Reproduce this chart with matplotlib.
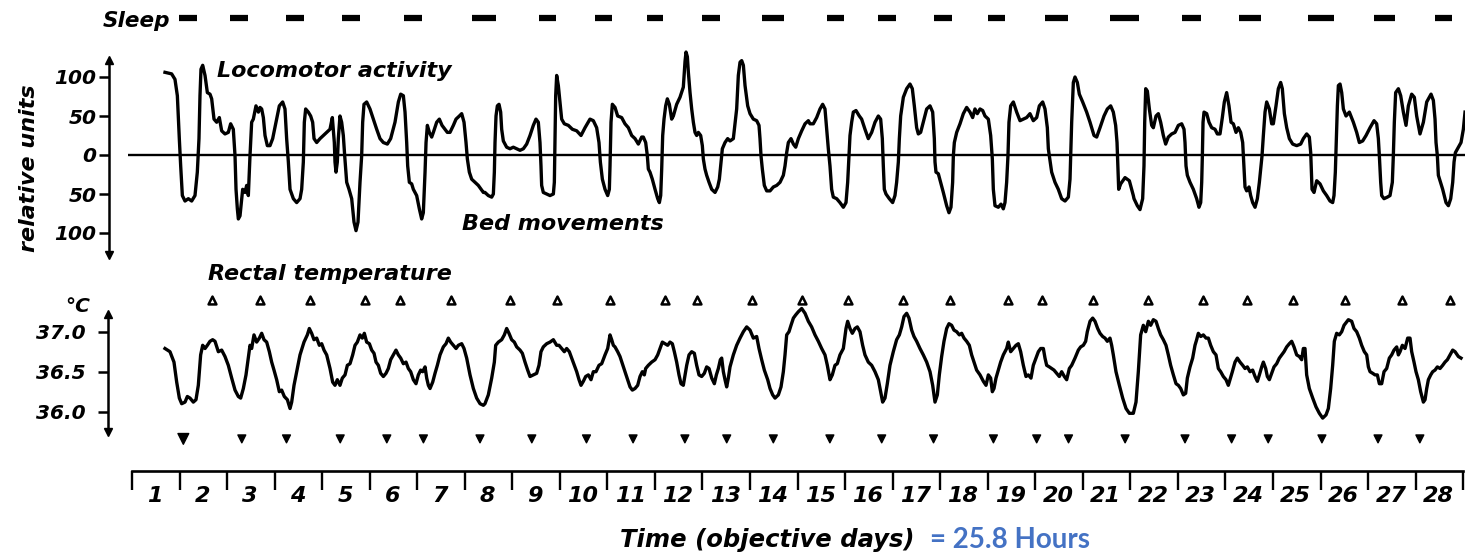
import matplotlib
matplotlib.use('Agg')
import matplotlib.pyplot as plt

W, H = 1465, 558
X0_PX = 132          # pixel where day 1 starts on the time axis
PX_PER_DAY = 47.54

# sleep episodes (start, end) in objective days from the start of day 1
SLEEP_START = [0.99, 2.06, 3.24, 4.42, 5.72, 7.15, 8.56, 9.74, 10.83, 12.00, 13.25,
               14.62, 15.69, 16.87, 18.00, 19.20, 20.57, 22.09, 23.29, 24.74, 26.13, 27.41]
SLEEP_END = [1.37, 2.44, 3.62, 4.80, 6.10, 7.66, 8.92, 10.10, 11.17, 12.37, 13.72,
             14.98, 16.07, 17.25, 18.36, 19.69, 21.18, 22.49, 23.75, 25.28, 26.57, 27.77]

# locomotor activity (positive) and bed movements (negative), relative units
ACTIVITY = [
    (0.694, 106), (0.834, 104), (0.904, 97), (0.954, 76), (0.996, 20), (1.024, -14),
    (1.059, -52), (1.115, -59), (1.185, -56), (1.255, -59), (1.325, -52), (1.374, -22),
    (1.409, 21), (1.430, 76), (1.451, 110), (1.487, 115), (1.536, 102), (1.585, 80),
    (1.641, 78), (1.676, 72), (1.725, 46), (1.781, 42), (1.837, 48), (1.886, 31),
    (1.956, 27), (2.026, 29), (2.075, 40), (2.131, 33), (2.167, -1), (2.188, -44),
    (2.216, -69), (2.237, -82), (2.272, -78), (2.307, -56), (2.328, -44), (2.377, -48),
    (2.412, -39), (2.447, -52), (2.482, -1), (2.517, 42), (2.552, 46), (2.608, 63),
    (2.658, 55), (2.693, 61), (2.728, 59), (2.763, 48), (2.798, 25), (2.847, 12),
    (2.903, 12), (2.959, 21), (3.029, 42), (3.099, 63), (3.169, 68), (3.218, 59),
    (3.253, 21), (3.289, -9), (3.324, -44), (3.394, -56), (3.464, -61), (3.534, -56),
    (3.569, -44), (3.604, -9), (3.625, 42), (3.653, 59), (3.709, 55), (3.758, 50),
    (3.800, 42), (3.829, 21), (3.885, 16), (3.955, 21), (4.025, 25), (4.095, 29),
    (4.165, 33), (4.214, 48), (4.256, 16), (4.270, -9), (4.291, -22), (4.319, -9),
    (4.340, 21), (4.375, 50), (4.410, 42), (4.445, 25), (4.474, -1), (4.516, -35),
    (4.565, -44), (4.621, -56), (4.670, -86), (4.712, -97), (4.754, -86), (4.796, -35),
    (4.831, -1), (4.852, 42), (4.880, 65), (4.936, 68), (5.006, 59), (5.077, 46),
    (5.147, 33), (5.217, 21), (5.287, 16), (5.371, 14), (5.441, 21), (5.532, 42),
    (5.603, 68), (5.652, 78), (5.708, 76), (5.743, 55), (5.778, 16), (5.799, -14),
    (5.834, -35), (5.883, -37), (5.918, -44), (5.988, -52), (6.044, -69), (6.093, -82),
    (6.128, -74), (6.164, -22), (6.185, 16), (6.213, 38), (6.255, 29), (6.304, 23),
    (6.339, 29), (6.409, 42), (6.465, 46), (6.521, 38), (6.584, 33), (6.633, 29),
    (6.689, 29), (6.760, 38), (6.816, 46), (6.886, 50), (6.935, 53), (6.984, 42),
    (7.026, 16), (7.054, -5), (7.096, -22), (7.145, -31), (7.215, -35), (7.285, -39),
    (7.391, -48), (7.425, -48), (7.495, -52), (7.566, -54), (7.601, -50), (7.622, -22),
    (7.636, 16), (7.657, 50), (7.685, 63), (7.720, 65), (7.755, 55), (7.776, 33),
    (7.811, 18), (7.881, 10), (7.951, 8), (8.021, 10), (8.092, 8), (8.162, 6),
    (8.232, 8), (8.302, 14), (8.372, 25), (8.442, 38), (8.498, 46), (8.547, 42),
    (8.582, 16), (8.603, -14), (8.617, -39), (8.652, -48), (8.723, -50), (8.793, -52),
    (8.863, -50), (8.884, -35), (8.898, 21), (8.912, 76), (8.933, 102), (8.968, 89),
    (9.003, 68), (9.038, 46), (9.094, 40), (9.178, 38), (9.263, 33), (9.354, 31),
    (9.445, 25), (9.529, 35), (9.634, 46), (9.704, 44), (9.774, 35), (9.823, 16),
    (9.852, -9), (9.894, -31), (9.950, -44), (10.006, -52), (10.041, -44), (10.055, -14),
    (10.076, 42), (10.104, 65), (10.160, 61), (10.216, 50), (10.300, 48), (10.370, 40),
    (10.441, 35), (10.511, 25), (10.581, 21), (10.651, 14), (10.721, 23), (10.756, 23),
    (10.805, 16), (10.840, -1), (10.861, -18), (10.896, -22), (10.945, -31), (11.002, -44),
    (11.058, -56), (11.093, -61), (11.121, -52), (11.142, -18), (11.163, 25), (11.191, 46),
    (11.226, 63), (11.261, 72), (11.303, 65), (11.352, 46), (11.387, 50), (11.457, 65),
    (11.527, 74), (11.597, 87), (11.633, 120), (11.654, 132), (11.682, 126), (11.703, 106),
    (11.738, 80), (11.773, 59), (11.808, 42), (11.843, 29), (11.878, 25), (11.913, 29),
    (11.962, 25), (11.997, 12), (12.018, -5), (12.053, -18), (12.088, -26), (12.138, -35),
    (12.194, -44), (12.264, -48), (12.320, -41), (12.355, -31), (12.390, -9), (12.418, 8),
    (12.474, 16), (12.530, 21), (12.579, 18), (12.649, 21), (12.719, 59), (12.754, 102),
    (12.790, 119), (12.825, 121), (12.860, 115), (12.895, 89), (12.951, 63), (13.000, 53),
    (13.070, 46), (13.140, 44), (13.189, 38), (13.210, 21), (13.231, -1), (13.259, -18),
    (13.301, -39), (13.351, -46), (13.421, -46), (13.491, -41), (13.561, -39), (13.631, -35),
    (13.701, -26), (13.736, -14), (13.771, 3), (13.806, 16), (13.862, 21), (13.912, 14),
    (13.961, 10), (14.017, 21), (14.087, 31), (14.157, 40), (14.227, 44), (14.261, 40),
    (14.331, 40), (14.402, 48), (14.472, 59), (14.528, 65), (14.577, 59), (14.612, 33),
    (14.647, 8), (14.682, -14), (14.717, -44), (14.752, -54), (14.822, -56), (14.892, -61),
    (14.963, -67), (15.019, -61), (15.054, -35), (15.082, -1), (15.103, 25), (15.138, 42),
    (15.173, 55), (15.229, 57), (15.299, 50), (15.348, 46), (15.418, 33), (15.488, 21),
    (15.559, 29), (15.629, 42), (15.699, 50), (15.748, 46), (15.783, 21), (15.804, -14),
    (15.825, -44), (15.860, -50), (15.930, -56), (16.000, -61), (16.049, -52), (16.084, -35),
    (16.120, -9), (16.141, 21), (16.169, 50), (16.225, 74), (16.295, 85), (16.365, 91),
    (16.414, 85), (16.456, 63), (16.505, 35), (16.540, 27), (16.589, 29), (16.645, 42),
    (16.716, 59), (16.786, 63), (16.842, 55), (16.877, 21), (16.891, -9), (16.912, -22),
    (16.961, -24), (17.010, -35), (17.066, -48), (17.136, -65), (17.185, -74), (17.227, -67),
    (17.262, -35), (17.277, -1), (17.298, 16), (17.347, 29), (17.417, 40), (17.487, 53),
    (17.557, 61), (17.627, 55), (17.683, 48), (17.732, 59), (17.781, 53), (17.838, 59),
    (17.894, 57), (17.943, 50), (18.013, 46), (18.062, 25), (18.097, -5), (18.118, -44),
    (18.153, -65), (18.223, -67), (18.279, -63), (18.328, -69), (18.363, -61), (18.398, -35),
    (18.426, -1), (18.447, 42), (18.483, 63), (18.539, 68), (18.609, 55), (18.679, 44),
    (18.749, 46), (18.819, 48), (18.889, 53), (18.959, 44), (19.030, 48), (19.086, 63),
    (19.156, 68), (19.205, 59), (19.254, 35), (19.275, 8), (19.296, -1), (19.345, -22),
    (19.415, -35), (19.485, -44), (19.555, -56), (19.626, -59), (19.696, -54), (19.731, -31),
    (19.745, -1), (19.766, 42), (19.801, 93), (19.836, 100), (19.885, 93), (19.927, 78),
    (19.997, 68), (20.081, 55), (20.152, 42), (20.236, 25), (20.292, 23), (20.362, 35),
    (20.446, 50), (20.516, 59), (20.586, 63), (20.642, 55), (20.691, 38), (20.720, 16),
    (20.734, -9), (20.755, -44), (20.797, -37), (20.888, -29), (20.979, -33), (21.063, -52),
    (21.077, -56), (21.147, -65), (21.203, -70), (21.259, -56), (21.287, -14), (21.302, 42),
    (21.323, 85), (21.358, 82), (21.400, 59), (21.449, 38), (21.484, 35), (21.540, 50),
    (21.589, 53), (21.638, 42), (21.694, 25), (21.743, 14), (21.799, 23), (21.870, 27),
    (21.940, 29), (22.010, 38), (22.080, 40), (22.129, 33), (22.150, 16), (22.171, -14),
    (22.199, -26), (22.255, -35), (22.325, -44), (22.395, -56), (22.444, -67), (22.480, -61),
    (22.501, -35), (22.515, -1), (22.529, 42), (22.550, 55), (22.606, 53), (22.655, 42),
    (22.711, 35), (22.781, 33), (22.830, 27), (22.886, 27), (22.935, 48), (22.977, 68),
    (23.026, 80), (23.075, 63), (23.118, 42), (23.167, 40), (23.223, 29), (23.272, 35),
    (23.321, 29), (23.363, 16), (23.391, -18), (23.412, -41), (23.447, -46), (23.496, -41),
    (23.531, -52), (23.573, -61), (23.623, -67), (23.672, -56), (23.714, -35), (23.749, -14),
    (23.770, -1), (23.798, 25), (23.833, 55), (23.868, 68), (23.924, 59), (23.973, 40),
    (24.008, 40), (24.064, 63), (24.113, 85), (24.162, 93), (24.197, 85), (24.240, 53),
    (24.289, 35), (24.345, 21), (24.415, 14), (24.499, 12), (24.583, 14), (24.639, 21),
    (24.709, 27), (24.765, 23), (24.794, 3), (24.808, -22), (24.822, -44), (24.864, -48),
    (24.920, -33), (24.990, -37), (25.060, -46), (25.130, -52), (25.200, -59), (25.256, -61),
    (25.284, -52), (25.312, -22), (25.333, 21), (25.355, 63), (25.376, 89), (25.411, 91),
    (25.446, 80), (25.481, 59), (25.537, 50), (25.607, 55), (25.691, 42), (25.761, 29),
    (25.817, 16), (25.887, 18), (25.958, 25), (26.042, 35), (26.126, 44), (26.182, 40),
    (26.217, 21), (26.238, -1), (26.266, -35), (26.287, -52), (26.336, -56), (26.406, -54),
    (26.462, -52), (26.511, -35), (26.532, -1), (26.553, 42), (26.581, 80), (26.638, 85),
    (26.687, 76), (26.743, 55), (26.799, 38), (26.848, 63), (26.918, 78), (26.974, 74),
    (27.023, 50), (27.093, 27), (27.164, 42), (27.234, 68), (27.325, 78), (27.374, 70),
    (27.409, 46), (27.430, 16), (27.458, -1), (27.479, -26), (27.514, -33), (27.570, -44),
    (27.640, -61), (27.690, -65), (27.739, -56), (27.781, -35), (27.809, -9), (27.837, 3),
    (27.900, 10), (27.956, 16), (28.005, 33), (28.040, 55),
]

# rectal temperature, degrees C
TEMPERATURE = [
    (0.694, 36.79), (0.799, 36.75), (0.883, 36.62), (0.940, 36.37), (0.996, 36.17),
    (1.045, 36.10), (1.115, 36.12), (1.164, 36.19), (1.220, 36.17), (1.290, 36.12),
    (1.346, 36.15), (1.395, 36.33), (1.444, 36.71), (1.487, 36.83), (1.536, 36.79),
    (1.585, 36.83), (1.641, 36.88), (1.697, 36.90), (1.746, 36.88), (1.816, 36.75),
    (1.886, 36.77), (1.956, 36.69), (2.026, 36.58), (2.097, 36.42), (2.167, 36.27),
    (2.237, 36.19), (2.286, 36.17), (2.342, 36.29), (2.398, 36.46), (2.447, 36.67),
    (2.482, 36.83), (2.517, 36.79), (2.566, 36.96), (2.622, 36.87), (2.679, 36.92),
    (2.728, 36.98), (2.777, 36.90), (2.833, 36.87), (2.889, 36.75), (2.938, 36.62),
    (2.987, 36.52), (3.043, 36.40), (3.099, 36.25), (3.148, 36.27), (3.204, 36.19),
    (3.268, 36.15), (3.324, 36.04), (3.359, 36.12), (3.408, 36.33), (3.464, 36.50),
    (3.534, 36.71), (3.618, 36.87), (3.688, 36.96), (3.730, 37.04), (3.779, 36.98),
    (3.828, 36.90), (3.885, 36.92), (3.941, 36.83), (3.990, 36.85), (4.039, 36.77),
    (4.095, 36.71), (4.165, 36.54), (4.221, 36.37), (4.270, 36.33), (4.319, 36.40),
    (4.375, 36.33), (4.424, 36.42), (4.481, 36.46), (4.530, 36.58), (4.586, 36.60),
    (4.642, 36.71), (4.691, 36.83), (4.740, 36.87), (4.796, 36.96), (4.845, 36.92),
    (4.887, 36.98), (4.936, 36.87), (4.993, 36.85), (5.042, 36.77), (5.091, 36.73),
    (5.133, 36.62), (5.182, 36.58), (5.231, 36.48), (5.287, 36.44), (5.343, 36.48),
    (5.392, 36.54), (5.441, 36.65), (5.497, 36.71), (5.553, 36.77), (5.603, 36.71),
    (5.652, 36.67), (5.708, 36.60), (5.764, 36.62), (5.813, 36.54), (5.862, 36.50),
    (5.918, 36.40), (5.974, 36.35), (6.023, 36.46), (6.072, 36.52), (6.114, 36.50),
    (6.164, 36.56), (6.199, 36.42), (6.234, 36.33), (6.269, 36.29), (6.325, 36.37),
    (6.374, 36.48), (6.423, 36.58), (6.479, 36.71), (6.549, 36.81), (6.605, 36.85),
    (6.654, 36.92), (6.703, 36.87), (6.760, 36.83), (6.816, 36.79), (6.865, 36.83),
    (6.935, 36.85), (6.984, 36.79), (7.040, 36.67), (7.110, 36.46), (7.180, 36.29),
    (7.250, 36.17), (7.321, 36.10), (7.391, 36.08), (7.425, 36.10), (7.495, 36.21),
    (7.566, 36.42), (7.622, 36.62), (7.650, 36.83), (7.706, 36.87), (7.776, 36.90),
    (7.832, 36.96), (7.881, 37.04), (7.930, 36.98), (7.986, 36.90), (8.042, 36.87),
    (8.092, 36.81), (8.162, 36.77), (8.211, 36.73), (8.267, 36.62), (8.323, 36.52),
    (8.372, 36.44), (8.442, 36.46), (8.512, 36.48), (8.561, 36.58), (8.603, 36.75),
    (8.652, 36.81), (8.723, 36.85), (8.793, 36.87), (8.863, 36.90), (8.933, 36.83),
    (8.982, 36.83), (9.038, 36.79), (9.094, 36.75), (9.143, 36.79), (9.199, 36.75),
    (9.248, 36.67), (9.305, 36.58), (9.354, 36.50), (9.403, 36.40), (9.445, 36.33),
    (9.494, 36.38), (9.543, 36.44), (9.599, 36.46), (9.655, 36.40), (9.704, 36.50),
    (9.760, 36.50), (9.823, 36.58), (9.880, 36.60), (9.950, 36.71), (10.006, 36.79),
    (10.055, 36.96), (10.090, 36.90), (10.125, 36.83), (10.160, 36.81), (10.216, 36.75),
    (10.265, 36.69), (10.314, 36.60), (10.370, 36.50), (10.427, 36.40), (10.476, 36.31),
    (10.525, 36.27), (10.581, 36.29), (10.637, 36.33), (10.686, 36.44), (10.735, 36.50),
    (10.777, 36.46), (10.805, 36.54), (10.861, 36.58), (10.931, 36.62), (11.002, 36.65),
    (11.058, 36.71), (11.107, 36.79), (11.156, 36.87), (11.212, 36.85), (11.268, 36.83),
    (11.317, 36.87), (11.366, 36.85), (11.408, 36.75), (11.457, 36.62), (11.506, 36.46),
    (11.548, 36.35), (11.597, 36.33), (11.633, 36.46), (11.668, 36.58), (11.717, 36.71),
    (11.773, 36.75), (11.829, 36.73), (11.878, 36.58), (11.927, 36.46), (11.983, 36.44),
    (12.039, 36.48), (12.088, 36.56), (12.138, 36.54), (12.194, 36.42), (12.250, 36.35),
    (12.292, 36.46), (12.334, 36.54), (12.376, 36.65), (12.404, 36.67), (12.439, 36.50),
    (12.474, 36.40), (12.509, 36.31), (12.544, 36.42), (12.579, 36.56), (12.649, 36.71),
    (12.719, 36.83), (12.790, 36.92), (12.860, 37.00), (12.930, 37.06), (13.000, 37.02),
    (13.070, 36.92), (13.140, 36.94), (13.189, 36.79), (13.245, 36.65), (13.301, 36.52),
    (13.372, 36.40), (13.421, 36.29), (13.477, 36.21), (13.526, 36.17), (13.596, 36.21),
    (13.652, 36.31), (13.701, 36.50), (13.736, 36.71), (13.771, 36.96), (13.820, 37.00),
    (13.862, 37.08), (13.912, 37.17), (13.961, 37.21), (14.017, 37.25), (14.087, 37.29),
    (14.157, 37.23), (14.227, 37.13), (14.296, 37.06), (14.367, 36.96), (14.437, 36.88),
    (14.507, 36.79), (14.577, 36.71), (14.626, 36.58), (14.682, 36.40), (14.731, 36.46),
    (14.787, 36.58), (14.836, 36.60), (14.892, 36.71), (14.963, 36.79), (15.019, 37.04),
    (15.054, 37.13), (15.103, 37.04), (15.152, 36.98), (15.208, 37.04), (15.257, 37.06),
    (15.313, 37.00), (15.369, 36.83), (15.418, 36.71), (15.488, 36.62), (15.559, 36.58),
    (15.629, 36.50), (15.699, 36.40), (15.748, 36.25), (15.790, 36.12), (15.839, 36.17),
    (15.888, 36.35), (15.944, 36.58), (16.014, 36.75), (16.084, 36.90), (16.141, 36.96),
    (16.190, 37.06), (16.239, 37.19), (16.295, 37.23), (16.344, 37.17), (16.400, 37.02),
    (16.449, 36.94), (16.505, 36.88), (16.575, 36.79), (16.645, 36.71), (16.716, 36.62),
    (16.786, 36.50), (16.842, 36.33), (16.891, 36.12), (16.940, 36.21), (16.982, 36.46),
    (17.031, 36.69), (17.080, 36.88), (17.136, 37.04), (17.185, 37.10), (17.241, 37.08),
    (17.290, 37.02), (17.347, 37.00), (17.403, 36.96), (17.452, 36.98), (17.501, 36.92),
    (17.557, 36.88), (17.613, 36.83), (17.662, 36.71), (17.711, 36.62), (17.767, 36.52),
    (17.838, 36.46), (17.908, 36.38), (17.964, 36.33), (18.013, 36.46), (18.062, 36.42),
    (18.097, 36.25), (18.132, 36.29), (18.174, 36.42), (18.223, 36.52), (18.272, 36.62),
    (18.328, 36.71), (18.398, 36.79), (18.433, 36.87), (18.483, 36.75), (18.539, 36.79),
    (18.595, 36.83), (18.644, 36.85), (18.693, 36.75), (18.749, 36.58), (18.805, 36.44),
    (18.854, 36.46), (18.910, 36.42), (18.959, 36.58), (19.015, 36.67), (19.065, 36.75),
    (19.114, 36.79), (19.170, 36.79), (19.205, 36.67), (19.240, 36.58), (19.296, 36.56),
    (19.345, 36.54), (19.394, 36.52), (19.450, 36.48), (19.506, 36.44), (19.555, 36.50),
    (19.612, 36.44), (19.661, 36.40), (19.717, 36.54), (19.766, 36.58), (19.836, 36.67),
    (19.906, 36.77), (19.955, 36.81), (20.011, 36.83), (20.060, 36.88), (20.095, 37.00),
    (20.152, 37.13), (20.208, 37.17), (20.257, 37.13), (20.313, 37.04), (20.362, 36.98),
    (20.418, 36.94), (20.467, 36.92), (20.516, 36.88), (20.572, 36.92), (20.607, 36.83),
    (20.642, 36.71), (20.698, 36.50), (20.769, 36.33), (20.839, 36.17), (20.909, 36.04),
    (20.979, 35.98), (21.063, 35.98), (21.119, 36.12), (21.168, 36.50), (21.217, 36.96),
    (21.273, 37.08), (21.323, 37.00), (21.379, 37.13), (21.428, 37.08), (21.484, 37.15),
    (21.540, 37.13), (21.589, 37.04), (21.638, 36.96), (21.694, 36.90), (21.750, 36.83),
    (21.799, 36.71), (21.848, 36.58), (21.905, 36.46), (21.961, 36.35), (22.010, 36.33),
    (22.059, 36.29), (22.115, 36.21), (22.164, 36.23), (22.199, 36.42), (22.255, 36.56),
    (22.311, 36.67), (22.360, 36.83), (22.395, 36.90), (22.430, 36.98), (22.480, 36.94),
    (22.536, 36.96), (22.592, 36.92), (22.641, 36.92), (22.690, 36.83), (22.746, 36.75),
    (22.802, 36.71), (22.851, 36.54), (22.900, 36.50), (22.956, 36.44), (23.012, 36.40),
    (23.061, 36.33), (23.096, 36.40), (23.146, 36.50), (23.202, 36.62), (23.251, 36.67),
    (23.307, 36.62), (23.363, 36.58), (23.412, 36.54), (23.461, 36.56), (23.517, 36.50),
    (23.573, 36.52), (23.623, 36.44), (23.672, 36.38), (23.714, 36.46), (23.763, 36.56),
    (23.798, 36.62), (23.847, 36.54), (23.882, 36.44), (23.924, 36.40), (23.973, 36.48),
    (24.022, 36.56), (24.078, 36.60), (24.134, 36.67), (24.183, 36.71), (24.233, 36.75),
    (24.289, 36.81), (24.345, 36.85), (24.394, 36.88), (24.443, 36.81), (24.499, 36.71),
    (24.555, 36.69), (24.604, 36.65), (24.639, 36.79), (24.674, 36.79), (24.709, 36.46),
    (24.765, 36.29), (24.836, 36.17), (24.906, 36.06), (24.976, 35.98), (25.046, 35.92),
    (25.116, 35.96), (25.165, 36.04), (25.214, 36.29), (25.256, 36.58), (25.291, 36.88),
    (25.340, 36.98), (25.396, 36.96), (25.446, 37.00), (25.495, 37.08), (25.586, 37.15),
    (25.656, 37.13), (25.705, 37.04), (25.761, 37.00), (25.817, 36.92), (25.866, 36.83),
    (25.922, 36.75), (25.972, 36.71), (26.007, 36.56), (26.042, 36.50), (26.098, 36.48),
    (26.147, 36.46), (26.196, 36.46), (26.238, 36.35), (26.287, 36.35), (26.336, 36.50),
    (26.392, 36.54), (26.448, 36.67), (26.497, 36.71), (26.546, 36.77), (26.603, 36.81),
    (26.638, 36.71), (26.673, 36.75), (26.722, 36.83), (26.778, 36.79), (26.834, 36.92),
    (26.883, 36.92), (26.918, 36.75), (26.967, 36.62), (27.009, 36.50), (27.058, 36.40),
    (27.107, 36.25), (27.164, 36.12), (27.199, 36.15), (27.234, 36.29), (27.269, 36.40),
    (27.318, 36.46), (27.360, 36.50), (27.409, 36.52), (27.458, 36.56), (27.514, 36.54),
    (27.570, 36.58), (27.619, 36.62), (27.669, 36.65), (27.725, 36.71), (27.781, 36.77),
    (27.830, 36.75), (27.900, 36.69), (27.956, 36.67),
]

# times of temperature maxima (open triangles) and minima (filled triangles)
TEMP_MAX_DAY = [1.68, 2.69, 3.74, 4.90, 5.64, 6.72, 7.95, 8.93, 10.05, 11.21, 11.88, 13.04,
                14.09, 15.07, 16.22, 17.21, 18.43, 19.14, 20.21, 21.37, 22.53, 23.46, 24.42,
                25.51, 26.71, 27.72]
TEMP_MIN_DAY = [1.08, 2.31, 3.25, 4.38, 5.36, 6.13, 7.32, 8.41, 9.56, 10.54, 11.63, 12.51,
                13.49, 14.68, 15.77, 16.86, 18.12, 19.03, 19.70, 20.89, 22.15, 23.13, 23.90,
                25.03, 26.21, 27.09]

DAYS = list(range(1, 29))
ACT_TICKS = [100, 50, 0, -50, -100]
ACT_TICK_LABELS = ['100', '50', '0', '50', '100']
TEMP_TICKS = [37.0, 36.5, 36.0]
TEMP_TICK_LABELS = ['37.0', '36.5', '36.0']


def fx(px):
    return px / W


def fy(py):
    return 1 - py / H


def px_to_day(px):
    return (px - X0_PX) / PX_PER_DAY


def bare_axes(fig, top_px, bottom_px):
    ax = fig.add_axes([0, fy(bottom_px), 1, (bottom_px - top_px) / H])
    ax.set_facecolor('none')
    ax.set_xlim(px_to_day(0), px_to_day(W))
    for side in ['top', 'right', 'bottom', 'left']:
        ax.spines[side].set_visible(False)
    ax.set_xticks([])
    ax.set_yticks([])
    return ax


def arrow_axis(ax, x, lo, hi, ticks, labels, pad):
    ax.spines['left'].set_visible(True)
    ax.spines['left'].set_position(('data', x))
    ax.spines['left'].set_bounds(lo, hi)
    ax.spines['left'].set_linewidth(1.8)
    ax.set_yticks(ticks, labels)
    ax.tick_params(axis='y', direction='out', length=7, width=1.8, pad=pad, labelsize=14.5)
    ax.plot([x], [hi], marker='^', ms=6, color='black', clip_on=False)
    ax.plot([x], [lo], marker='v', ms=6, color='black', clip_on=False)


def main():
    plt.rcParams['font.family'] = 'DejaVu Sans'
    plt.rcParams['font.style'] = 'italic'
    plt.rcParams['font.weight'] = 'bold'

    fig = plt.figure(figsize=(W / 100, H / 100), dpi=100)
    fig.patch.set_facecolor('white')

    act_day = [p[0] for p in ACTIVITY]
    act_val = [p[1] for p in ACTIVITY]
    temp_day = [p[0] for p in TEMPERATURE]
    temp_val = [p[1] for p in TEMPERATURE]

    # sleep row
    ax_s = bare_axes(fig, 5, 30)
    ax_s.set_ylim(0, 1)
    ax_s.hlines([0.5] * len(SLEEP_START), SLEEP_START, SLEEP_END, color='black', lw=4.5)

    # locomotor activity / bed movements
    ax_a = bare_axes(fig, 40, 265)
    ax_a.set_ylim((155 - 265) / 0.78, (155 - 40) / 0.78)
    ax_a.hlines(0, px_to_day(128), px_to_day(W), color='black', lw=1.7)
    ax_a.plot(act_day, act_val, color='black', lw=2.4, solid_joinstyle='round')
    arrow_axis(ax_a, px_to_day(109), -128, 122, ACT_TICKS, ACT_TICK_LABELS, 2)

    # rectal temperature
    ax_t = bare_axes(fig, 285, 460)
    ax_t.set_ylim(37 - (460 - 331.7) / 80, 37 + (331.7 - 285) / 80)
    ax_t.plot(temp_day, temp_val, color='black', lw=2.4, solid_joinstyle='round')
    sizes = [60] + [32] * (len(TEMP_MIN_DAY) - 1)
    ax_t.scatter(TEMP_MIN_DAY, [35.66] * len(TEMP_MIN_DAY), marker='v', s=sizes,
                 color='black', zorder=3)
    ax_t.scatter(TEMP_MAX_DAY, [37.40] * len(TEMP_MAX_DAY), marker='^', s=32,
                 facecolor='white', edgecolor='black', linewidth=1.8, zorder=3)
    arrow_axis(ax_t, px_to_day(108), 35.75, 37.22, TEMP_TICKS, TEMP_TICK_LABELS, 9)

    # time axis
    ax_x = bare_axes(fig, 462, 470.5)
    ax_x.spines['bottom'].set_visible(True)
    ax_x.spines['bottom'].set_bounds(0, 28)
    ax_x.spines['bottom'].set_linewidth(1.9)
    ax_x.set_xticks(range(0, 29))
    ax_x.set_xticklabels([])
    ax_x.set_xticks([d - 0.52 for d in DAYS], [str(d) for d in DAYS], minor=True)
    ax_x.tick_params(axis='x', which='major', direction='out', length=13.5, width=1.7)
    ax_x.tick_params(axis='x', which='minor', length=0, pad=11.5, labelsize=16)

    # texts
    fig.text(fx(170), fy(27), 'Sleep', ha='right', va='baseline', fontsize=15.5)
    fig.text(fx(217), fy(77), 'Locomotor activity', va='baseline', fontsize=16)
    fig.text(fx(462), fy(230), 'Bed movements', va='baseline', fontsize=16)
    fig.text(fx(208), fy(280), 'Rectal temperature', va='baseline', fontsize=16)
    fig.text(fx(29), fy(168), 'relative units', rotation=90, ha='center', va='center',
             fontsize=16)
    fig.text(fx(65), fy(312), '°C', va='baseline', fontsize=14.5)
    fig.text(fx(915), fy(547), 'Time (objective days)', ha='right', va='baseline',
             fontsize=17.5)
    fig.text(fx(930), fy(548), '= 25.8 Hours', va='baseline', fontsize=20,
             fontstyle='normal', fontweight='bold', color='#4472C4',
             family=['Lato', 'DejaVu Sans'])

    fig.savefig('out.png', dpi=100, facecolor='white')


if __name__ == '__main__':
    main()
